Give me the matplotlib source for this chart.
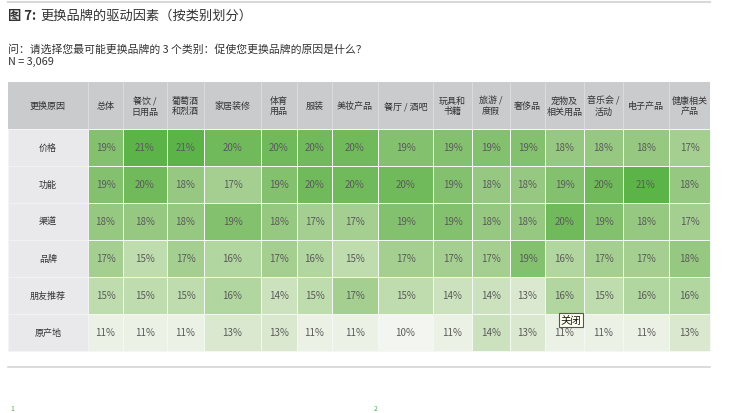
import numpy as np
import matplotlib
matplotlib.use('Agg')
import matplotlib.pyplot as plt
from matplotlib.colors import LinearSegmentedColormap

plt.rcParams['font.family'] = ['Noto Sans CJK SC', 'DejaVu Sans']

# data
reasons = ['价格', '功能', '渠道', '品牌', '朋友推荐', '原产地']
categories = ['总体', '餐饮 /\n日用品', '葡萄酒\n和烈酒', '家居装修', '体育\n用品', '服装', '美妆产品',
              '餐厅 / 酒吧', '玩具和\n书籍', '旅游 /\n度假', '奢侈品', '宠物及\n相关用品', '音乐会 /\n活动',
              '电子产品', '健康相关\n产品']
price = [19, 21, 21, 20, 20, 20, 20, 19, 19, 19, 19, 18, 18, 18, 17]
function = [19, 20, 18, 17, 19, 20, 20, 20, 19, 18, 18, 19, 20, 21, 18]
channel = [18, 18, 18, 19, 18, 17, 17, 19, 19, 18, 18, 20, 19, 18, 17]
brand = [17, 15, 17, 16, 17, 16, 15, 17, 17, 17, 19, 16, 17, 17, 18]
friends = [15, 15, 15, 16, 14, 15, 17, 15, 14, 14, 13, 16, 15, 16, 16]
origin = [11, 11, 11, 13, 13, 11, 11, 10, 11, 14, 13, 11, 11, 11, 13]

values = np.array([price, function, channel, brand, friends, origin])

# layout (pixels)
W, H = 744, 414
col_edges = [88, 123, 167, 204, 261, 297, 332, 378, 433, 472, 510, 545, 584, 623, 669, 710]
label_left = 8
header_top, header_bottom = 83, 130
row_h = 37

fig = plt.figure(figsize=(W / 100, H / 100), dpi=100)
ax = fig.add_axes([0, 0, 1, 1])
ax.set_xlim(0, W)
ax.set_ylim(H, 0)
ax.axis('off')

cmap = LinearSegmentedColormap.from_list('grn', ['#f3f6f0', '#dce9d2', '#b9d9a6', '#93c77e', '#5cb347'])
row_edges = header_bottom + row_h * np.arange(len(reasons) + 1)
ax.pcolormesh(col_edges, row_edges, values, cmap=cmap, vmin=10, vmax=21,
              edgecolor='#f4f8f2', linewidth=0.4)

# label column and header
for i, r in enumerate(reasons):
    y0 = row_edges[i]
    ax.add_patch(plt.Rectangle((label_left, y0), col_edges[0] - label_left, row_h,
                               facecolor='#e9e9eb', edgecolor='#f5f5f5', lw=0.4))
    ax.text((label_left + col_edges[0]) / 2, y0 + row_h / 2, r, ha='center', va='center',
            fontsize=6.5, color='#333333')
ax.add_patch(plt.Rectangle((label_left, header_top), col_edges[-1] - label_left, header_bottom - header_top,
                           facecolor='#cacbcd', edgecolor='none'))
ax.text((label_left + col_edges[0]) / 2, (header_top + header_bottom) / 2, '更换原因',
        ha='center', va='center', fontsize=6.5, color='#333333')
for j, c in enumerate(categories):
    x0, x1 = col_edges[j], col_edges[j + 1]
    ax.plot([x0, x0], [header_top, header_bottom], color='#e2e2e4', lw=0.5)
    ax.text((x0 + x1) / 2, (header_top + header_bottom) / 2, c, ha='center', va='center',
            fontsize=6.5, color='#333333', linespacing=1.25)

# cell values
for i in range(len(reasons)):
    for j in range(len(categories)):
        ax.text((col_edges[j] + col_edges[j + 1]) / 2, row_edges[i] + row_h / 2,
                f'{values[i, j]}%', ha='center', va='center', fontsize=7, color='#5a5a5a')

# titles
ax.plot([8, 710], [3, 3], color='#d8d8d8', lw=1.5)
ax.text(8, 16, '图 7:', fontsize=9.5, fontweight='bold', color='#333333', va='center')
ax.text(40, 16, '更换品牌的驱动因素（按类别划分）', fontsize=9.5, color='#333333', va='center')
ax.text(8, 49, '问：请选择您最可能更换品牌的 3 个类别：促使您更换品牌的原因是什么？',
        fontsize=7.8, color='#333333', va='center')
ax.text(8, 62, 'N = 3,069', fontsize=7.8, color='#333333', va='center')

# bottom rule and tooltip
ax.plot([8, 710], [368, 368], color='#d4d4d4', lw=1.2)
ax.text(571, 321, '关闭', fontsize=7.5, color='#111111', ha='center', va='center',
        bbox=dict(boxstyle='square,pad=0.2', facecolor='#fffff0', edgecolor='#555555', lw=0.8))
ax.text(10, 413, '1', fontsize=5, color='#4caf50', va='bottom')
ax.text(374, 413, '2', fontsize=5, color='#4caf50', va='bottom')

fig.savefig('out.png', dpi=100, facecolor='white')
